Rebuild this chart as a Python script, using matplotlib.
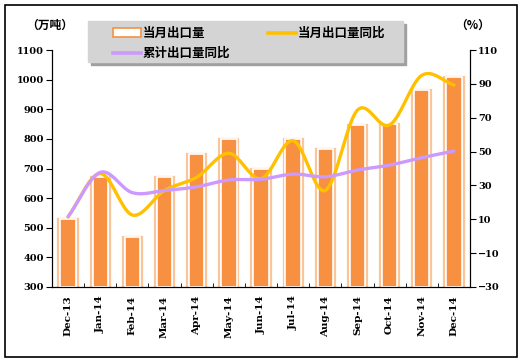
import numpy as np
import matplotlib
matplotlib.use("Agg")
import matplotlib.pyplot as plt
from matplotlib.patches import Rectangle
from matplotlib.lines import Line2D

plt.rcParams['font.family'] = ['Noto Sans CJK SC', 'DejaVu Sans']

months = ['Dec-13', 'Jan-14', 'Feb-14', 'Mar-14', 'Apr-14', 'May-14', 'Jun-14',
          'Jul-14', 'Aug-14', 'Sep-14', 'Oct-14', 'Nov-14', 'Dec-14']
volume = [530, 671, 470, 671, 748, 799, 699, 800, 767, 846, 851, 965, 1010]
yoy_month = [11.5, 37, 12.5, 27, 34.8, 49, 34, 56.4, 27, 74.5, 65.7, 95, 89.3]
yoy_cum = [11.5, 37.7, 25.7, 27, 29.2, 33.2, 33.6, 36.7, 35.1, 39.1, 42, 46.4, 50.3]

left_ticks = [300, 400, 500, 600, 700, 800, 900, 1000, 1100]
right_ticks = [-30, -10, 10, 30, 50, 70, 90, 110]

c_bar = '#F79040'
c_edge = '#FAC59A'
c_yel = '#FFC000'
c_pur = '#CC99FF'


def smooth(y, n=20):
    # Catmull-Rom curve through the points, like Excel's smoothed line
    y = np.asarray(y, float)
    x = np.arange(len(y), dtype=float)
    px = np.concatenate([[2 * x[0] - x[1]], x, [2 * x[-1] - x[-2]]])
    py = np.concatenate([[2 * y[0] - y[1]], y, [2 * y[-1] - y[-2]]])
    xs, ys = [], []
    for i in range(1, len(px) - 2):
        t = np.linspace(0, 1, n, endpoint=False)
        for p, out in ((px, xs), (py, ys)):
            p0, p1, p2, p3 = p[i - 1], p[i], p[i + 1], p[i + 2]
            out.extend(0.5 * ((2 * p1) + (-p0 + p2) * t
                              + (2 * p0 - 5 * p1 + 4 * p2 - p3) * t ** 2
                              + (-p0 + 3 * p1 - 3 * p2 + p3) * t ** 3))
    xs.append(x[-1]); ys.append(y[-1])
    return np.array(xs), np.array(ys)


fig = plt.figure(figsize=(5.26, 3.64), dpi=100)
fig.patches.append(Rectangle((5 / 526, 1 - 357 / 364), 512 / 526, 352 / 364,
                             transform=fig.transFigure, fill=False,
                             edgecolor='black', linewidth=1.2))

ax = fig.add_axes([52 / 526, 1 - 287 / 364, 418 / 526, 237 / 364])
x = np.arange(len(months))
ax.bar(x, np.array(volume) - 300, bottom=300, width=0.6, color='none',
       edgecolor=c_edge, linewidth=1.6, zorder=2)
ax.bar(x, np.array(volume) - 300, bottom=300, width=0.48, color=c_bar,
       edgecolor='white', linewidth=1.2, zorder=3)
ax.set_xlim(-0.5, len(months) - 0.5)
ax.set_ylim(300, 1100)
ax.set_yticks(left_ticks)
ax.set_yticklabels([str(v) for v in left_ticks], family='DejaVu Serif',
                   fontweight='bold', fontsize=7)
ax.set_xticks(x)
ax.set_xticklabels(months, rotation=90, family='DejaVu Serif',
                   fontweight='bold', fontsize=7.5)
ax.tick_params(axis='x', length=0, pad=6)
ax.set_xticks(np.arange(len(months) + 1) - 0.5, minor=True)
ax.tick_params(axis='x', which='minor', direction='in', length=3)
ax.tick_params(axis='y', direction='out', length=4, pad=2)
ax.spines['top'].set_visible(False)

ax2 = ax.twinx()
ax2.set_ylim(-30, 110)
ax2.set_yticks(right_ticks)
ax2.set_yticklabels([str(v).replace('-', '\u2212') for v in right_ticks],
                    family='DejaVu Serif', fontweight='bold', fontsize=7)
ax2.tick_params(axis='y', direction='out', length=4, pad=2)
ax2.spines['top'].set_visible(False)
sx, sy = smooth(yoy_month)
ax2.plot(sx, sy, color=c_yel, linewidth=2.4, zorder=4, solid_capstyle='round')
sx, sy = smooth(yoy_cum)
ax2.plot(sx, sy, color=c_pur, linewidth=2.4, zorder=5, solid_capstyle='round')

fig.text(50 / 526, 1 - 25 / 364, '（万吨）', ha='center', va='center',
         fontsize=8.5, fontweight='bold')
fig.text(473 / 526, 1 - 25 / 364, '（%）', ha='center', va='center',
         fontsize=8.5, fontweight='bold')

# legend box with shadow
fig.patches.append(Rectangle((91 / 526, 1 - 65 / 364), 315 / 526, 41 / 364,
                             transform=fig.transFigure, color='#A0A0A0', zorder=1))
fig.patches.append(Rectangle((88 / 526, 1 - 62 / 364), 315 / 526, 41 / 364,
                             transform=fig.transFigure, color='#D4D4D4', zorder=2))
# column-first fill: bar + cumulative in column 1, monthly in column 2
handles = [
    (Rectangle((0, 0), 1, 1, facecolor='white', edgecolor=c_bar, linewidth=1.2), '当月出口量'),
    (Line2D([], [], color=c_pur, linewidth=2.6), '累计出口量同比'),
    (Line2D([], [], color=c_yel, linewidth=2.6), '当月出口量同比'),
]
leg = fig.legend([h for h, _ in handles], [l for _, l in handles], ncol=2,
                 loc='upper left', bbox_to_anchor=(108 / 526, 1 - 22 / 364),
                 frameon=False, fontsize=9, handlelength=2.2, handletextpad=0.2,
                 columnspacing=3.0, labelspacing=0.55, borderaxespad=0)
for t in leg.get_texts():
    t.set_fontweight('bold')

fig.savefig('out.png', dpi=100)
